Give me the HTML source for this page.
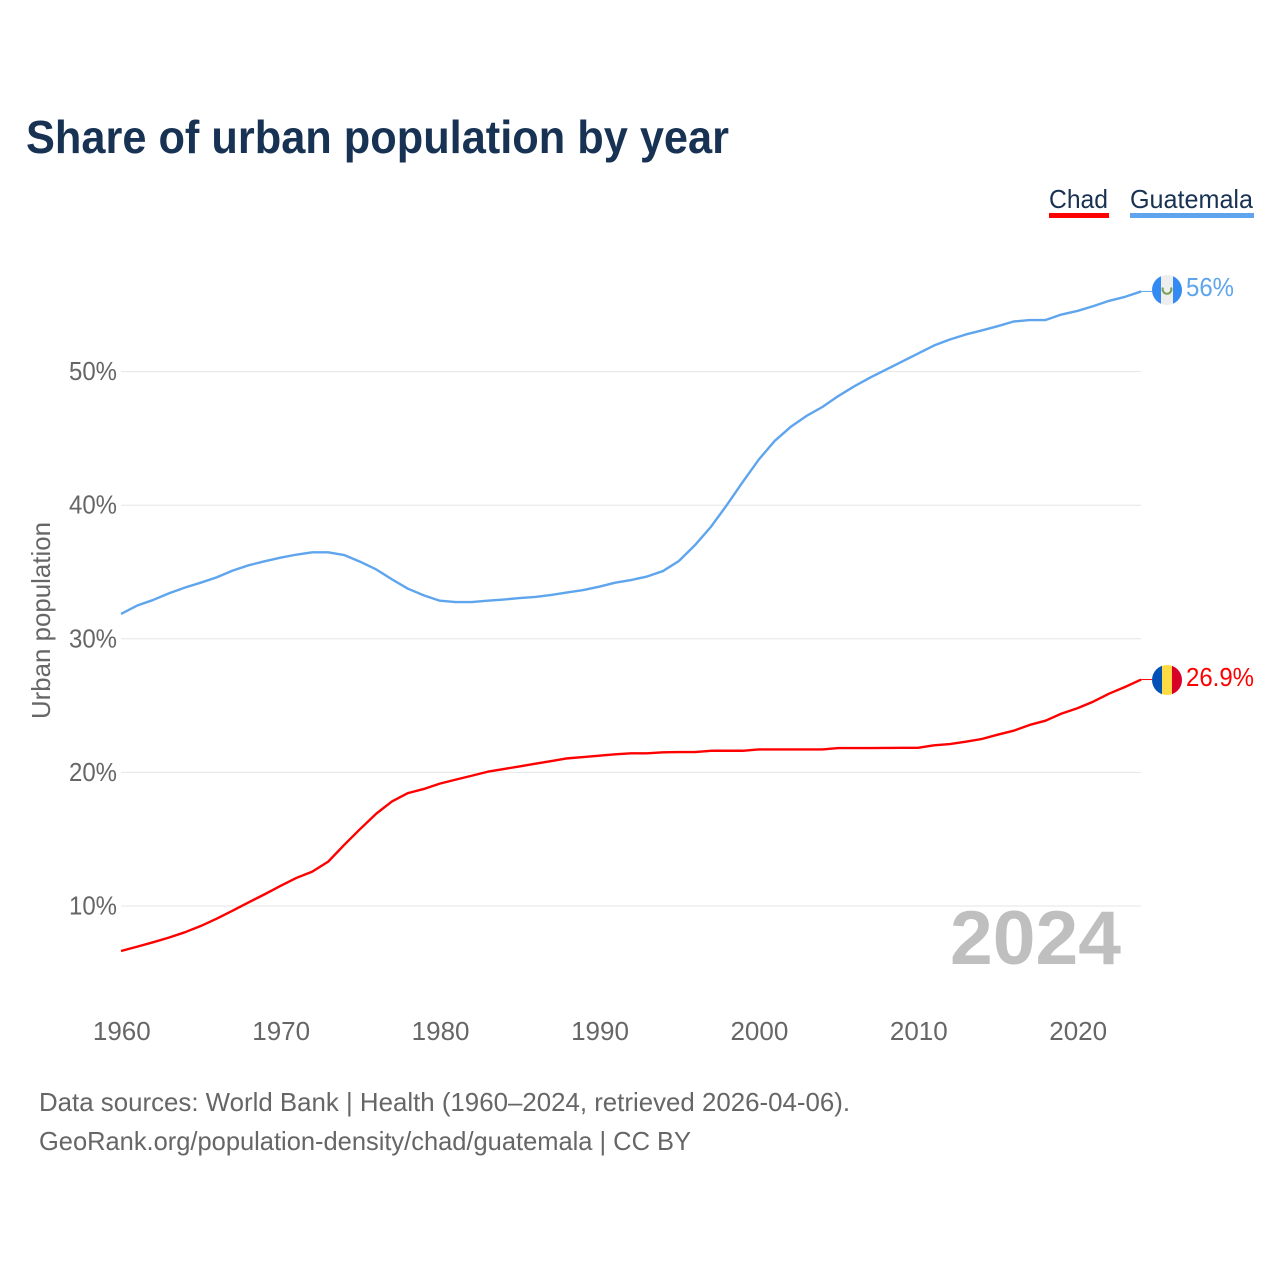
<!DOCTYPE html>
<html lang="en">
<head>
<meta charset="utf-8">
<title>Share of urban population by year</title>
<style>
html,body{margin:0;padding:0;background:#fff;}
svg{display:block;}
text{font-family:"Liberation Sans",sans-serif;}
</style>
</head>
<body>
<svg id="chart" xmlns="http://www.w3.org/2000/svg" width="1280" height="1280" viewBox="0 0 1280 1280">
  <rect width="1280" height="1280" fill="#fff"/>
  <text x="26" y="153" font-size="46" font-weight="700" fill="#173253" textLength="703" lengthAdjust="spacingAndGlyphs">Share of urban population by year</text>

  <g id="grid"></g>
  <g id="yticks"></g>
  <g id="xticks"></g>
  <text transform="translate(50 620.5) rotate(-90)" text-anchor="middle" font-size="26" fill="#666" textLength="197" lengthAdjust="spacingAndGlyphs">Urban population</text>

  <text x="950" y="964" font-size="76" font-weight="700" fill="#bfbfbf" textLength="171" lengthAdjust="spacingAndGlyphs">2024</text>

  <g id="series"></g>

  <g>
    <text x="1049" y="208" font-size="26" fill="#173253" textLength="59" lengthAdjust="spacingAndGlyphs">Chad</text>
    <rect x="1049" y="213" width="60" height="5" fill="#ff0000"/>
  </g>
  <g>
    <text x="1130" y="208" font-size="26" fill="#173253" textLength="123" lengthAdjust="spacingAndGlyphs">Guatemala</text>
    <rect x="1130" y="213" width="124" height="5" fill="#5ea5ee"/>
  </g>

  <g id="flag-guatemala">
    <clipPath id="clip-gt"><circle cx="1167" cy="290" r="15"/></clipPath>
    <g clip-path="url(#clip-gt)">
      <rect x="1152" y="275" width="30" height="30" fill="#eeeeee"/>
      <rect x="1152" y="275" width="9" height="30" fill="#338af3"/>
      <rect x="1173" y="275" width="9" height="30" fill="#338af3"/>
      <path d="M1163 287.5 A4.4 4.4 0 1 0 1171 287.5" fill="none" stroke="#7d9f52" stroke-width="2"/>
    </g>
  </g>
  <g id="flag-chad">
    <clipPath id="clip-td"><circle cx="1167" cy="680" r="15"/></clipPath>
    <g clip-path="url(#clip-td)">
      <rect x="1152" y="665" width="10" height="30" fill="#0052b4"/>
      <rect x="1162" y="665" width="10" height="30" fill="#ffda44"/>
      <rect x="1172" y="665" width="10" height="30" fill="#d80027"/>
    </g>
  </g>
  <text x="1186" y="296" font-size="26" fill="#5ea5ee" textLength="48" lengthAdjust="spacingAndGlyphs">56%</text>
  <text x="1186" y="686" font-size="26" fill="#ff0000" textLength="68" lengthAdjust="spacingAndGlyphs">26.9%</text>

  <text x="39" y="1111" font-size="26" fill="#666" textLength="811" lengthAdjust="spacingAndGlyphs">Data sources: World Bank | Health (1960–2024, retrieved 2026-04-06).</text>
  <text x="39" y="1150" font-size="26" fill="#666" textLength="652" lengthAdjust="spacingAndGlyphs">GeoRank.org/population-density/chad/guatemala | CC BY</text>
</svg>
<script>
const startYear = 1960;
const yTickValues = [10, 20, 30, 40, 50];
const xTickYears = [1960, 1970, 1980, 1990, 2000, 2010, 2020];
const guatemalaValues = [
  31.86,32.48,32.9,33.4,33.83,34.2,34.6,35.1,35.5,35.8,
  36.07,36.3,36.47,36.47,36.27,35.77,35.2,34.45,33.75,33.25,
  32.85,32.75,32.75,32.85,32.94,33.05,33.13,33.28,33.47,33.65,
  33.9,34.2,34.4,34.66,35.07,35.82,37.0,38.37,40.0,41.73,
  43.4,44.8,45.85,46.68,47.35,48.17,48.9,49.55,50.15,50.75,
  51.35,51.95,52.4,52.78,53.08,53.4,53.75,53.86,53.86,54.27,
  54.54,54.9,55.3,55.6,56.0
];
const chadValues = [
  6.63,6.95,7.28,7.63,8.03,8.5,9.05,9.65,10.27,10.87,
  11.5,12.1,12.57,13.32,14.57,15.76,16.9,17.83,18.45,18.76,
  19.16,19.46,19.75,20.05,20.25,20.45,20.65,20.85,21.05,21.15,
  21.25,21.35,21.43,21.43,21.5,21.52,21.52,21.62,21.62,21.62,
  21.72,21.72,21.72,21.72,21.72,21.82,21.82,21.82,21.83,21.84,
  21.84,22.03,22.12,22.3,22.5,22.82,23.12,23.55,23.87,24.4,
  24.8,25.3,25.9,26.4,26.95
];

const NS = 'http://www.w3.org/2000/svg';
const xScale = year => 121 + (year - startYear) * 15.94;
const yScale = value => 906 - (value - 10) * 13.36;
const lastX = xScale(startYear + guatemalaValues.length - 1);

const grid = document.getElementById('grid');
const yticks = document.getElementById('yticks');
const xticks = document.getElementById('xticks');
const series = document.getElementById('series');

yTickValues.forEach(v => {
  const line = document.createElementNS(NS, 'line');
  
  
  line.setAttribute('x1', 121);
  line.setAttribute('x2', lastX);
  line.setAttribute('y1', yScale(v));
  line.setAttribute('y2', yScale(v));
  line.setAttribute('stroke', '#e6e6e6');
  line.setAttribute('stroke-width', '1');
  grid.appendChild(line);

  const label = document.createElementNS(NS, 'text');
  
  
  label.setAttribute('x', 117);
  label.setAttribute('y', yScale(v) + 8.5);
  label.setAttribute('text-anchor', 'end');
  label.setAttribute('font-size', '26');
  label.setAttribute('fill', '#666');
  label.setAttribute('textLength', '48');
  label.setAttribute('lengthAdjust', 'spacingAndGlyphs');
  label.textContent = v + '%';
  yticks.appendChild(label);
});

xTickYears.forEach(y => {
  const label = document.createElementNS(NS, 'text');
  
  
  label.setAttribute('x', xScale(y) + 0.8);
  label.setAttribute('y', 1040);
  label.setAttribute('text-anchor', 'middle');
  label.setAttribute('font-size', '26');
  label.setAttribute('fill', '#666');
  label.textContent = y;
  xticks.appendChild(label);
});

function pathFor(values) {
  return values.map((v, i) => (i ? 'L' : 'M') + xScale(startYear + i).toFixed(2) + ' ' + yScale(v).toFixed(2)).join(' ');
}

const guatemalaLine = document.createElementNS(NS, 'path');


guatemalaLine.setAttribute('d', pathFor(guatemalaValues));
guatemalaLine.setAttribute('fill', 'none');
guatemalaLine.setAttribute('stroke', '#5ea5ee');
guatemalaLine.setAttribute('stroke-width', '2.4');
guatemalaLine.setAttribute('stroke-linejoin', 'round');
series.appendChild(guatemalaLine);

const chadLine = document.createElementNS(NS, 'path');


chadLine.setAttribute('d', pathFor(chadValues));
chadLine.setAttribute('fill', 'none');
chadLine.setAttribute('stroke', '#ff0000');
chadLine.setAttribute('stroke-width', '2.4');
chadLine.setAttribute('stroke-linejoin', 'round');
series.appendChild(chadLine);

const guatemalaLeader = document.createElementNS(NS, 'line');


guatemalaLeader.setAttribute('x1', lastX);
guatemalaLeader.setAttribute('x2', lastX + 11);
guatemalaLeader.setAttribute('y1', yScale(guatemalaValues[guatemalaValues.length - 1]));
guatemalaLeader.setAttribute('y2', yScale(guatemalaValues[guatemalaValues.length - 1]));
guatemalaLeader.setAttribute('stroke', '#5ea5ee');
guatemalaLeader.setAttribute('stroke-width', '1');
series.appendChild(guatemalaLeader);

const chadLeader = document.createElementNS(NS, 'line');


chadLeader.setAttribute('x1', lastX);
chadLeader.setAttribute('x2', lastX + 11);
chadLeader.setAttribute('y1', yScale(chadValues[chadValues.length - 1]));
chadLeader.setAttribute('y2', yScale(chadValues[chadValues.length - 1]));
chadLeader.setAttribute('stroke', '#ff0000');
chadLeader.setAttribute('stroke-width', '1');
series.appendChild(chadLeader);
</script>
</body>
</html>
